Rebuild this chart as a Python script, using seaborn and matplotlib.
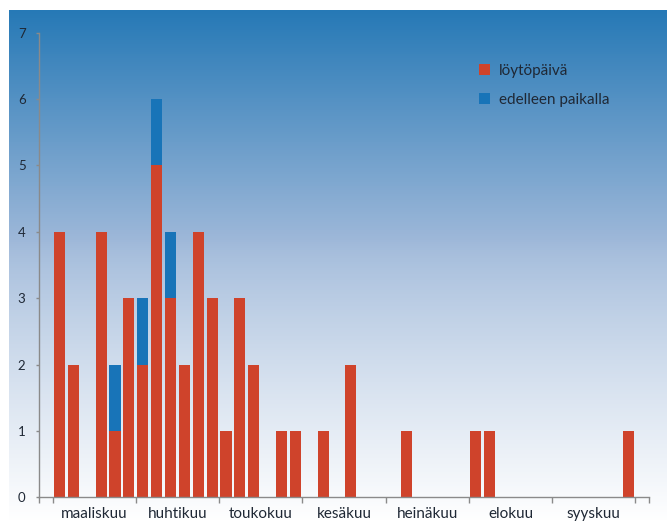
import numpy as np
import pandas as pd
import matplotlib
matplotlib.use("Agg")
import matplotlib.pyplot as plt
from matplotlib.patches import Patch
import seaborn as sns

# ---- data ----
months = ["maaliskuu", "huhtikuu", "toukokuu", "kesäkuu", "heinäkuu", "elokuu", "syyskuu"]
slots = list(range(44))  # 6 five-day slots per month, plus one empty slot on each side
found = [0, 4, 2, 0, 4, 1, 3, 2, 5, 3, 2, 4, 3, 1, 3, 2, 0, 1, 1, 0, 1, 0, 2, 0,
         0, 0, 1, 0, 0, 0, 0, 1, 1, 0, 0, 0, 0, 0, 0, 0, 0, 0, 1, 0]
still = [0, 0, 0, 0, 0, 1, 0, 1, 1, 1, 0, 0, 0, 0, 0, 0, 0, 0, 0, 0, 0, 0, 0, 0,
         0, 0, 0, 0, 0, 0, 0, 0, 0, 0, 0, 0, 0, 0, 0, 0, 0, 0, 0, 0]
series_names = ["löytöpäivä", "edelleen paikalla"]
yticks = [0, 1, 2, 3, 4, 5, 6, 7]

RED = "#cf432b"
BLUE = "#1874b8"
TEXT = "#1f2835"

sns.set_theme(style="white")
plt.rcParams["font.family"] = ["Lato", "DejaVu Sans"]

W, H = 667, 522
fig = plt.figure(figsize=(W / 100, H / 100), dpi=100)
fig.patch.set_facecolor("white")

# gradient background panel
bg = fig.add_axes([9 / W, 0, 1 - 9 / W, (H - 10) / H], zorder=0)
n = 256
top = np.array([0x26, 0x79, 0xb6]) / 255
mid = np.array([0x9e, 0xb8, 0xd9]) / 255
bot = np.array([1.0, 1.0, 1.0])
cols = np.zeros((n, 1, 3))
for i in range(n):
    t = i / (n - 1)
    if t < 0.45:
        s = t / 0.45
        cols[i, 0] = top * (1 - s) + mid * s
    else:
        s = ((t - 0.45) / 0.55) ** 0.8
        cols[i, 0] = mid * (1 - s) + bot * s
bg.imshow(cols, aspect="auto", extent=[0, 1, 0, 1], origin="upper")
bg.set_axis_off()

ax = fig.add_axes([38.7 / W, 24.7 / H, (649.3 - 38.7) / W, (497.3 - 32.7) / H], zorder=1)
ax.set_facecolor("none")

df = pd.DataFrame({"slot": slots, "found": found,
                   "total": [a + b for a, b in zip(found, still)]})
sns.barplot(data=df, x="slot", y="total", order=slots, color=BLUE, saturation=1,
            width=0.8, ax=ax, linewidth=0)
sns.barplot(data=df, x="slot", y="found", order=slots, color=RED, saturation=1,
            width=0.8, ax=ax, linewidth=0)

ax.set_xlim(-0.5, 43.5)
ax.set_ylim(0, 7)
ax.set_xlabel("")
ax.set_ylabel("")

major = [-0.5] + [0.5 + 6 * k for k in range(8)] + [43.5]
ax.set_xticks(major)
ax.set_xticklabels([""] * len(major))
ax.set_xticks([3.5 + 6 * k for k in range(7)], minor=True)
ax.set_xticklabels(months, minor=True, fontsize=11, color=TEXT)
ax.tick_params(axis="x", which="major", length=4, width=1, color="#8a8a8a", direction="out", bottom=True)
ax.tick_params(axis="x", which="minor", length=0, pad=7)

ax.set_yticks(yticks)
ax.set_yticklabels([str(v) for v in yticks], fontsize=9.5, color=TEXT)
ax.tick_params(axis="y", length=2.5, width=1, color="#8a8a8a", direction="out", left=True, pad=7)

for s in ["top", "right"]:
    ax.spines[s].set_visible(False)
for s in ["left", "bottom"]:
    ax.spines[s].set_color("#8a8a8a")
    ax.spines[s].set_linewidth(1)

handles = [Patch(facecolor=RED, edgecolor="none", label=series_names[0]),
           Patch(facecolor=BLUE, edgecolor="none", label=series_names[1])]
leg = fig.legend(handles=handles, loc="upper left", bbox_to_anchor=(465 / W, 1 - 50 / H),
                 frameon=False, fontsize=11, handlelength=0.75, handleheight=0.75,
                 handletextpad=0.6, labelspacing=1.0, labelcolor=TEXT)

fig.savefig("out.png", dpi=100)
